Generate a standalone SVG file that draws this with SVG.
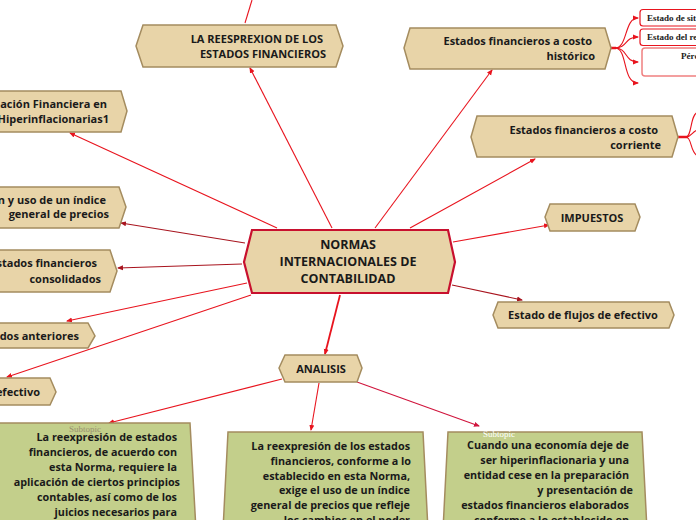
<svg xmlns="http://www.w3.org/2000/svg" width="696" height="520" viewBox="0 0 696 520">
<defs>
<marker id="arr" viewBox="0 0 6 6" refX="5" refY="3" markerWidth="6" markerHeight="6" orient="auto" markerUnits="userSpaceOnUse">
<path d="M0,0.5 L6,3 L0,5.5 Z" fill="#e8141e"/>
</marker>
<marker id="ard" viewBox="0 0 6 6" refX="5" refY="3" markerWidth="6" markerHeight="6" orient="auto" markerUnits="userSpaceOnUse">
<path d="M0,0.5 L6,3 L0,5.5 Z" fill="#a8141e"/>
</marker>
<marker id="arc" viewBox="0 0 6 6" refX="5" refY="3" markerWidth="6" markerHeight="6" orient="auto" markerUnits="userSpaceOnUse">
<path d="M0,0.5 L6,3 L0,5.5 Z" fill="#d0143c"/>
</marker>
</defs>
<style>
.n{fill:#e8d4a8;stroke:#a48c5f;stroke-width:1.5}
.c{fill:#e8d4a8;stroke:#c8102e;stroke-width:2.2}
.g{fill:#c3cf8b;stroke:#a48c5f;stroke-width:1.5}
.t{font-family:"Open Sans","Liberation Sans",sans-serif;font-weight:bold;font-size:11px;fill:#1a1a1a}
.tc{font-family:"Open Sans","Liberation Sans",sans-serif;font-weight:bold;font-size:12.5px;fill:#1a1a1a;text-anchor:middle}
.tb{font-family:"Open Sans","Liberation Sans",sans-serif;font-weight:bold;font-size:10.8px;fill:#1a1a1a;text-anchor:end}
.e{text-anchor:end}
.m{text-anchor:middle}
.l{fill:none;stroke:#e8141e;stroke-width:1.1;marker-end:url(#arr)}
.ld{fill:none;stroke:#a8141e;stroke-width:1.1;marker-end:url(#ard)}
.lc{fill:none;stroke:#d0143c;stroke-width:1.1;marker-end:url(#arc)}
.lp{fill:none;stroke:#e8141e;stroke-width:1.1}
.wb{fill:#fff;stroke:#e8141e;stroke-width:1.2}
.wb2{fill:#fff;stroke:#f08080;stroke-width:1.5}
.ts{font-family:"Liberation Serif",serif;font-weight:bold;font-size:9px;fill:#1a1a1a}
.sub{font-family:"Liberation Serif",serif;font-size:9px}
</style>

<g id="connectors">
<line class="lp" x1="252" y1="0" x2="245" y2="23"/>
<line class="l" x1="332" y1="228" x2="250" y2="68"/>
<line class="l" x1="375" y1="228" x2="492" y2="70"/>
<line class="l" x1="410" y1="228" x2="535" y2="159"/>
<line class="l" x1="453" y1="242" x2="549" y2="225"/>
<line class="ld" x1="452" y1="285" x2="522" y2="300"/>
<line class="l" x1="340" y1="295" x2="325" y2="354" style="stroke-width:1.8"/>
<line class="l" x1="277" y1="228" x2="70" y2="133"/>
<line class="ld" x1="245" y1="243" x2="121" y2="223"/>
<line class="ld" x1="242" y1="264" x2="118" y2="268"/>
<line class="l" x1="247" y1="283" x2="67" y2="321"/>
<line class="l" x1="251" y1="295" x2="7" y2="377"/>
<line class="l" x1="282" y1="379" x2="109" y2="423"/>
<line class="l" x1="319" y1="383" x2="311" y2="430"/>
<line class="lc" x1="357" y1="382" x2="479" y2="426"/>
<path class="lp" d="M611,48 H616" style="stroke-width:2.5"/>
<path class="l" d="M615,48 C628,48 624,18 638,18"/>
<path class="l" d="M615,48 C628,48 624,37 638,37"/>
<path class="l" d="M615,48 C628,48 624,62 638,62"/>
<path class="l" d="M615,48 C628,48 622,83 638,83"/>
<path class="lp" d="M678,137 H688" style="stroke-width:2.5"/>
<path class="lp" d="M686,137 C692,137 690,114 698,112"/>
<path class="lp" d="M686,137 C692,137 692,131 698,130"/>
<path class="lp" d="M686,137 C692,137 690,153 698,156"/>
</g>

<g id="n-center">
<path class="c" d="M244,262 L252,230 L448,230 L455,262 L448,293 L252,293 Z"/>
<text class="tc" x="348" y="249">NORMAS</text>
<text class="tc" x="348" y="266">INTERNACIONALES DE</text>
<text class="tc" x="348" y="283">CONTABILIDAD</text>
</g>

<g id="n-reesprexion">
<path class="n" d="M136,46 L143,25 L336,25 L343,46 L336,67 L143,67 Z"/>
<text class="t e" x="323" y="43">LA REESPREXION DE LOS</text>
<text class="t e" x="326" y="58">ESTADOS FINANCIEROS</text>
</g>

<g id="n-historico">
<path class="n" d="M404,48 L410,28 L605,28 L611,48 L605,69 L410,69 Z"/>
<text class="t e" x="592" y="45">Estados financieros a costo</text>
<text class="t e" x="595" y="60">histórico</text>
</g>

<g id="n-sit">
<rect class="wb" x="640" y="9.5" width="80" height="16.5" rx="3"/>
<text class="ts" x="647" y="21">Estado de sit</text>
</g>
<g id="n-res">
<rect class="wb" x="640" y="29" width="80" height="16.5" rx="3"/>
<text class="ts" x="647" y="40">Estado del re</text>
</g>
<g id="n-perd">
<rect class="wb2" x="642" y="48" width="80" height="28" rx="3"/>
<text class="ts" x="681" y="59">Pérd</text>
</g>

<g id="n-corriente">
<path class="n" d="M471,137 L477,116 L672,116 L678,137 L672,157 L477,157 Z"/>
<text class="t e" x="658" y="134">Estados financieros a costo</text>
<text class="t e" x="661" y="149">corriente</text>
</g>

<g id="n-impuestos">
<path class="n" d="M545,217 L550,204 L635,204 L640,217 L635,231 L550,231 Z"/>
<text class="t m" x="592" y="222">IMPUESTOS</text>
</g>

<g id="n-flujos">
<path class="n" d="M493,315 L498,302 L669,302 L674,315 L669,328 L498,328 Z"/>
<text class="t m" x="583" y="319">Estado de flujos de efectivo</text>
</g>

<g id="n-analisis">
<path class="n" d="M279,368 L285,355 L357,355 L362,368 L357,382 L285,382 Z"/>
<text class="t m" x="321" y="373">ANALISIS</text>
</g>

<g id="n-hiper">
<path class="n" d="M-130,111 L-124,91 L121,91 L127,111 L121,132 L-124,132 Z"/>
<text class="t e" x="107" y="108">nación Financiera en</text>
<text class="t e" x="109" y="123">Hiperinflacionarias1</text>
</g>

<g id="n-indice">
<path class="n" d="M-130,207 L-124,187 L119,187 L126,207 L119,228 L-124,228 Z"/>
<text class="t e" x="106" y="204">n y uso de un índice</text>
<text class="t e" x="109" y="218">general de precios</text>
</g>

<g id="n-consolidados">
<path class="n" d="M-130,271 L-124,250 L110,250 L117,271 L110,292 L-124,292 Z"/>
<text class="t e" x="97" y="267">stados financieros</text>
<text class="t e" x="101" y="283">consolidados</text>
</g>

<g id="n-anteriores">
<path class="n" d="M-130,336 L-124,323 L88,323 L95,336 L88,348 L-124,348 Z"/>
<text class="t e" x="79" y="340">dos anteriores</text>
</g>

<g id="n-efectivo">
<path class="n" d="M-130,392 L-124,378 L50,378 L56,392 L50,405 L-124,405 Z"/>
<text class="t e" x="40" y="396">efectivo</text>
</g>

<g id="n-sub1">
<path class="g" d="M-10,423 L190,423 L196,530 L-15,530 Z"/>
<text class="sub m" x="85" y="432" fill="#9a8f70">Subtopic</text>
<text class="tb" x="177" y="441">La reexpresión de estados</text>
<text class="tb" x="177" y="456">financieros, de acuerdo con</text>
<text class="tb" x="177" y="471">esta Norma, requiere la</text>
<text class="tb" x="180" y="486">aplicación de ciertos principios</text>
<text class="tb" x="177" y="501">contables, así como de los</text>
<text class="tb" x="177" y="516">juicios necesarios para</text>
</g>

<g id="n-sub2">
<path class="g" d="M228,432 L423,432 L428,530 L223,530 Z"/>
<text class="tb" x="410" y="450">La reexpresión de los estados</text>
<text class="tb" x="411" y="465">financieros, conforme a lo</text>
<text class="tb" x="410" y="480">establecido en esta Norma,</text>
<text class="tb" x="410" y="494">exige el uso de un índice</text>
<text class="tb" x="410" y="509">general de precios que refleje</text>
<text class="tb" x="410" y="524">los cambios en el poder</text>
</g>

<g id="n-sub3">
<path class="g" d="M448,432 L642,432 L647,530 L443,530 Z"/>
<text class="sub m" x="499" y="437" fill="#ffffff">Subtopic</text>
<text class="tb" x="629" y="449">Cuando una economía deje de</text>
<text class="tb" x="629" y="464">ser hiperinflacionaria y una</text>
<text class="tb" x="629" y="479">entidad cese en la preparación</text>
<text class="tb" x="633" y="494">y presentación de</text>
<text class="tb" x="629" y="509">estados financieros elaborados</text>
<text class="tb" x="629" y="524">conforme a lo establecido en</text>
</g>
</svg>
